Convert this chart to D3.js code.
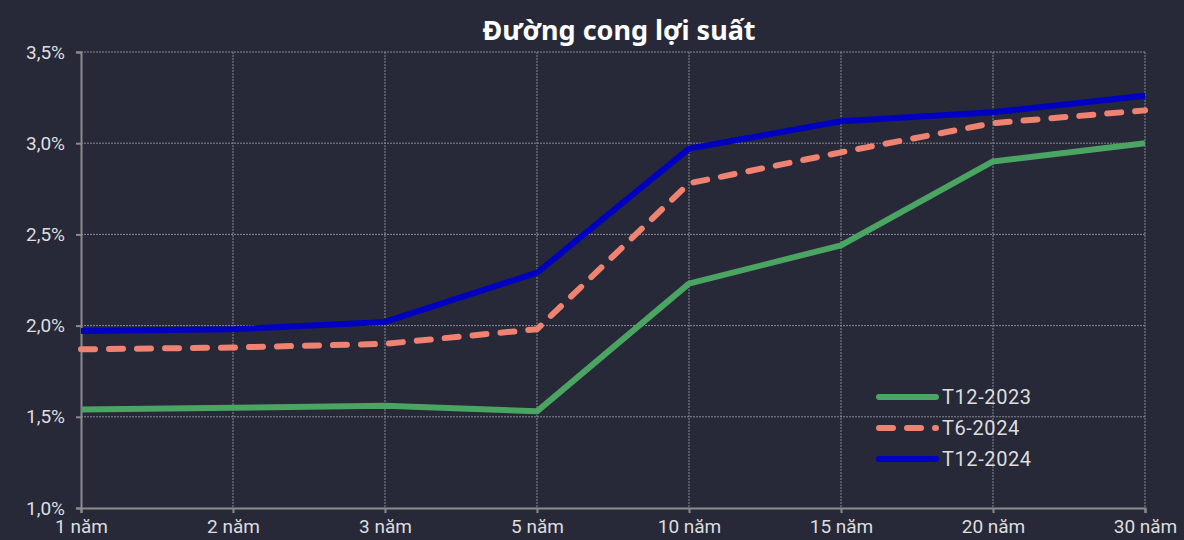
<!DOCTYPE html>
<html>
<head>
<meta charset="utf-8">
<script src="https://cdn.jsdelivr.net/npm/d3@7"></script>
<style>
  html, body { margin: 0; padding: 0; background: #272838; }
  svg { display: block; }
</style>
</head>
<body>
<svg id="chart" width="1184" height="540"></svg>
<script>
// Data
var terms = ["1 năm", "2 năm", "3 năm", "5 năm", "10 năm", "15 năm", "20 năm", "30 năm"];
var t12_2023 = [1.54, 1.55, 1.56, 1.53, 2.23, 2.44, 2.90, 3.00];
var t6_2024  = [1.87, 1.88, 1.90, 1.98, 2.78, 2.95, 3.11, 3.18];
var t12_2024 = [1.97, 1.98, 2.02, 2.29, 2.97, 3.12, 3.17, 3.26];
var yTicks = [1.0, 1.5, 2.0, 2.5, 3.0, 3.5];

var series = [
  { name: "T12-2023", values: t12_2023, color: "#4aa462", dash: null },
  { name: "T6-2024",  values: t6_2024,  color: "#ef8270", dash: "14,14" },
  { name: "T12-2024", values: t12_2024, color: "#0000c0", dash: null }
];

var svg = d3.select("#chart");
var margin = { left: 81, right: 39, top: 52, bottom: 32 };
var width = 1184 - margin.left - margin.right;
var height = 540 - margin.top - margin.bottom;

var x = d3.scalePoint().domain(terms).range([0, width]).padding(0);
var y = d3.scaleLinear().domain([1.0, 3.5]).range([height, 0]);

var g = svg.append("g").attr("transform", "translate(" + margin.left + "," + margin.top + ")");

// Title
svg.append("text")
  .attr("x", 619).attr("y", 40)
  .attr("text-anchor", "middle")
  .attr("fill", "#ffffff")
  .style("font-family", "'Noto Sans', sans-serif")
  .style("font-weight", "bold")
  .style("font-size", "27px")
  .text("Đường cong lợi suất");

// Grid lines
g.append("g").selectAll("line.h")
  .data(yTicks.slice(1))
  .enter().append("line")
  .attr("x1", 0).attr("x2", width)
  .attr("y1", function(d) { return y(d); })
  .attr("y2", function(d) { return y(d); })
  .attr("stroke", "#8a8a94").attr("stroke-width", 1)
  .attr("stroke-dasharray", "2,1");

g.append("g").selectAll("line.v")
  .data(terms.slice(1))
  .enter().append("line")
  .attr("x1", function(d) { return x(d); })
  .attr("x2", function(d) { return x(d); })
  .attr("y1", 0).attr("y2", height)
  .attr("stroke", "#8a8a94").attr("stroke-width", 1)
  .attr("stroke-dasharray", "2,1");

// Axes
var yAxis = g.append("g")
  .call(d3.axisLeft(y).tickValues(yTicks).tickSize(5).tickPadding(11)
    .tickFormat(function(d) { return d3.format(".1f")(d).replace(".", ",") + "%"; }));
var xAxis = g.append("g")
  .attr("transform", "translate(0," + height + ")")
  .call(d3.axisBottom(x).tickSize(5).tickPadding(4));

[yAxis, xAxis].forEach(function(a) {
  a.select(".domain").attr("stroke", "#8c8c8c").attr("stroke-width", 2);
  a.selectAll(".tick line").attr("stroke", "#8c8c8c").attr("stroke-width", 2);
  a.selectAll(".tick text")
    .attr("fill", "#dedede")
    .style("font-family", "Roboto, sans-serif")
    .style("font-size", "19px");
});
xAxis.selectAll(".tick text").attr("dy", "0.85em");

// Lines
var line = d3.line()
  .x(function(d, i) { return x(terms[i]); })
  .y(function(d) { return y(d); });

series.forEach(function(s) {
  g.append("path")
    .datum(s.values)
    .attr("d", line)
    .attr("fill", "none")
    .attr("stroke", s.color)
    .attr("stroke-width", 6)
    .attr("stroke-linecap", s.dash ? "round" : "butt")
    .attr("stroke-linejoin", "round")
    .attr("stroke-dasharray", s.dash);
});

// Legend
var legend = svg.append("g").attr("transform", "translate(879,397)");
series.forEach(function(s, i) {
  var row = legend.append("g").attr("transform", "translate(0," + (i * 31) + ")");
  row.append("line")
    .attr("x1", 0).attr("x2", 57).attr("y1", 0).attr("y2", 0)
    .attr("stroke", s.color).attr("stroke-width", 6)
    .attr("stroke-linecap", "round")
    .attr("stroke-dasharray", s.dash);
  row.append("text")
    .attr("x", 63).attr("y", 7)
    .attr("fill", "#dedede")
    .style("font-family", "Roboto, sans-serif")
    .style("font-size", "20px")
    .style("letter-spacing", "0.6px")
    .text(s.name);
});
</script>
</body>
</html>
